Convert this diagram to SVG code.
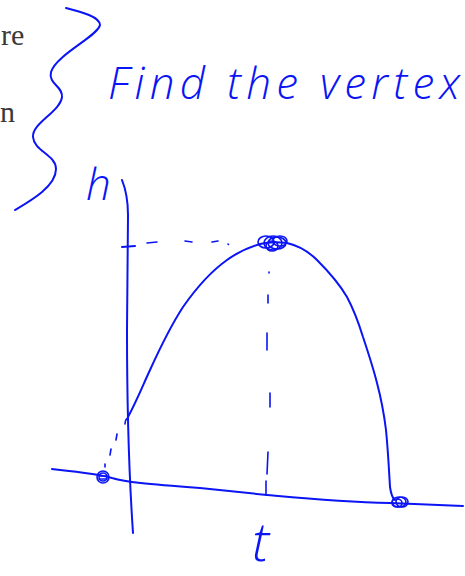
<svg xmlns="http://www.w3.org/2000/svg" width="465" height="576" viewBox="0 0 465 576">
<style>
.ink{fill:none;stroke:#0a14f5;stroke-width:2;stroke-linecap:round;stroke-linejoin:round}
.ink-t{fill:none;stroke:#0a14f5;stroke-width:1.6;stroke-linecap:round}
.hand{fill:#0a14f5;font-family:"Open Sans","Liberation Sans",Arial,sans-serif;font-style:italic;font-weight:300}
.print{fill:#3a3a3a;font-family:"Liberation Serif","Times New Roman",serif;font-size:30px}
</style>
<rect width="465" height="576" fill="#ffffff"/>
<g id="printed-text">
<text class="print" x="1" y="45">re</text>
<text class="print" x="0" y="122">n</text>
</g>
<g id="brace">
<path class="ink" d="M66,8 C82,12 100,17 100,25 C98,36 56,55 51,72 C48,84 63,86 62,97 C60,112 32,123 33,137 C34,151 56,155 56,169 C56,186 32,200 15,210"/>
</g>
<g id="title">
<text class="hand" x="108" y="99" font-size="44" textLength="352" lengthAdjust="spacing">Find the vertex</text>
</g>
<g id="axes">
<path class="ink" d="M122,180 C126,190 128,200 128,215 L127,330 C127,400 128,460 133,533"/>
<path class="ink" d="M52,469 C80,472 100,474 112,478 C126,482 145,484 200,488 L267,495 C300,498 340,502 390,503 L463,506"/>
<path class="ink" d="M122,247 L135,246"/>
</g>
<g id="labels">
<text class="hand" x="86" y="200" font-size="44">h</text>
<text class="hand" x="252" y="561" font-size="54">t</text>
</g>
<g id="parabola">
<path class="ink" d="M128,417 C137,400 143,385 150,370 C160,348 170,327 183,307 C197,287 210,272 227,260 C238,252 250,247 260,244 C268,242 278,242 287,243 C300,246 309,252 317,260 C330,273 340,285 347,297 C355,312 359,324 363,337 C368,352 373,367 377,383 C381,398 384,414 386,430 C388,450 389,470 390,487 C391,494 392,498 395,500"/>
<path class="ink-t" d="M125,424 C125,420 127,418 128,418"/>
</g>
<g id="guides">
<path class="ink-t" d="M147,243 L157,242 M185,241 L192,242 M212,242 L218,241 M228,244 L228.5,244.5"/>
<path class="ink-t" d="M269,272 L269,273 M268,295 L268,303 M267,333 L267,350 M270,393 L270,407 M268,452 L267,474 M266,481 L266,495"/>
<path class="ink-t" d="M117,434 L116,440 M111,449 L110,455 M105,464 L105,467"/>
</g>
<g id="points">
<ellipse class="ink-t" cx="266" cy="242" rx="8" ry="6"/>
<ellipse class="ink-t" cx="273" cy="243" rx="9" ry="7"/>
<ellipse class="ink-t" cx="277" cy="243" rx="9" ry="6"/>
<ellipse class="ink-t" cx="272" cy="246" rx="6" ry="5"/>
<ellipse class="ink-t" cx="280" cy="241" rx="7" ry="5"/>
<ellipse class="ink-t" cx="103" cy="477" rx="6" ry="6"/>
<ellipse class="ink-t" cx="103" cy="477" rx="4" ry="4"/>
<path class="ink-t" d="M99,476 L107,476 M99,479 L107,479"/>
<ellipse class="ink-t" cx="399" cy="502" rx="7" ry="5"/>
<ellipse class="ink-t" cx="402" cy="502" rx="6" ry="5"/>
<ellipse class="ink-t" cx="397" cy="503" rx="5" ry="4"/>
</g>
</svg>
